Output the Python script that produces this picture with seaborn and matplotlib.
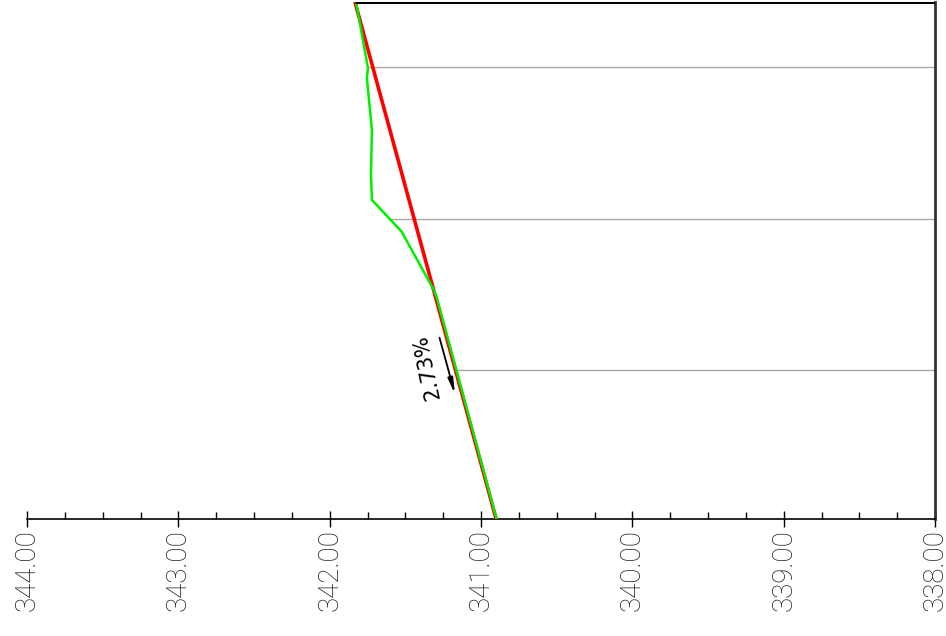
import numpy as np
import pandas as pd
import matplotlib
matplotlib.use("Agg")
import matplotlib.pyplot as plt
import seaborn as sns
from matplotlib.ticker import MultipleLocator, FixedLocator

# Elevation ticks (m)
elev_ticks = [344.0, 343.0, 342.0, 341.0, 340.0, 339.0, 338.0]
tick_labels = ["344.00", "343.00", "342.00", "341.00", "340.00", "339.00", "338.00"]

# Existing ground profile: station (m) and elevation (m)
ground_station = [34.32, 29.96, 29.30, 25.86, 22.89, 21.24, 19.15, 15.42, 14.82, 0.15]
ground_elev = [341.826, 341.747, 341.754, 341.721, 341.727, 341.721, 341.525, 341.319, 341.293, 340.897]

# Design grade line
grade_pct = 2.73
design_station = [0.15, 34.32]
design_start_elev = 340.90

# Cross-section stations marked by guide lines
guide_stations = [10.0, 20.0, 30.0]

design_elev = [design_start_elev + grade_pct / 100.0 * (s - design_station[0]) for s in design_station]

sns.set_style("white")
plt.rcParams["font.family"] = ["DejaVu Sans"]

fig = plt.figure(figsize=(9.46, 6.36), dpi=100)
ax = fig.add_axes([27 / 946, (636 - 519) / 636, (935 - 27) / 946, (519 - 2) / 636])

design_df = pd.DataFrame({"elev": design_elev, "station": design_station})
ground_df = pd.DataFrame({"elev": ground_elev, "station": ground_station})

# Guide lines from the ground line to the right edge
g_sorted = sorted(zip(ground_station, ground_elev))
gs = [p[0] for p in g_sorted]
ge = [p[1] for p in g_sorted]
for s in guide_stations:
    ax.plot([np.interp(s, gs, ge), elev_ticks[-1]], [s, s], color="#a8a8a8", lw=1.0, zorder=1)

sns.lineplot(data=design_df, x="elev", y="station", sort=False, estimator=None,
             color="#ff0000", lw=2.6, ax=ax, zorder=3)
sns.lineplot(data=ground_df, x="elev", y="station", sort=False, estimator=None,
             color="#00ee00", lw=1.8, ax=ax, zorder=4)

# Top border from profile start to the right edge
ax.plot([design_elev[-1], elev_ticks[-1]], [design_station[-1], design_station[-1]],
        color="black", lw=2.2, zorder=5, solid_capstyle="butt")

ax.set_xlim(elev_ticks[0], elev_ticks[-1])
ax.set_ylim(design_station[0], design_station[-1])

# Grade annotation
ax.annotate("", xy=(341.167, 8.22), xytext=(341.279, 12.31),
            arrowprops=dict(arrowstyle="-|>,head_length=0.9,head_width=0.15", color="black", lw=1.3))
ax.text(341.36, 10.2, f"{grade_pct:.2f}%", rotation=102, rotation_mode="anchor",
        ha="center", va="center", fontsize=15, color="black")

for side in ["left", "top"]:
    ax.spines[side].set_visible(False)
ax.spines["right"].set_color("#333333")
ax.spines["right"].set_linewidth(2.0)
ax.spines["bottom"].set_color("black")
ax.spines["bottom"].set_linewidth(1.2)

ax.xaxis.set_major_locator(FixedLocator(elev_ticks))
ax.xaxis.set_minor_locator(MultipleLocator(0.25))
ax.set_xticklabels(tick_labels, rotation=90, fontsize=20, fontweight="light",
                   family=["Roboto", "DejaVu Sans"], color="#1a1a1a")
ax.tick_params(axis="x", which="both", bottom=True, top=False)
ax.tick_params(axis="x", which="major", direction="inout", length=12, width=1.0, pad=1, color="black")
ax.tick_params(axis="x", which="minor", direction="in", length=5, width=1.0, color="black")
ax.set_yticks([])
ax.set_xlabel("")
ax.set_ylabel("")

fig.savefig("out.png", dpi=100)
